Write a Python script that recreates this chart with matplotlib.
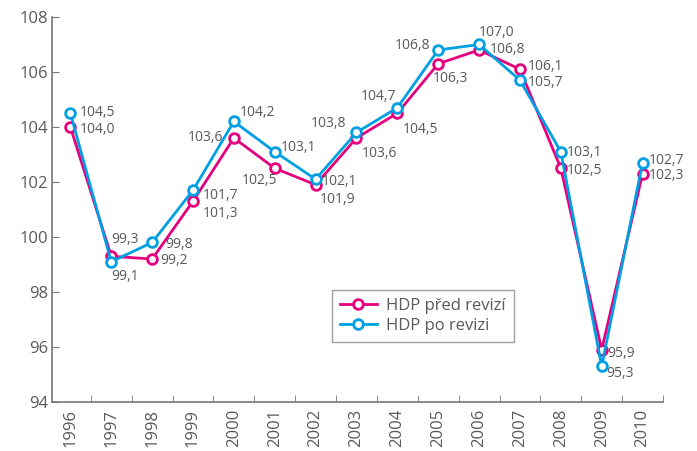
import matplotlib
matplotlib.use("Agg")
import matplotlib.pyplot as plt

# data
years = [str(y) for y in range(1996, 2011)]
hdp_pred = [104.0, 99.3, 99.2, 101.3, 103.6, 102.5, 101.9, 103.6, 104.5, 106.3, 106.8, 106.1, 102.5, 95.9, 102.3]
hdp_po = [104.5, 99.1, 99.8, 101.7, 104.2, 103.1, 102.1, 103.8, 104.7, 106.8, 107.0, 105.7, 103.1, 95.3, 102.7]

MAGENTA = "#e5007e"
CYAN = "#00a0e3"
GREY = "#58595b"

# label offsets in pixels (dx, dy, ha)
off_pred = [(9, -3, "left"), (0, 17, "left"), (8, -2, "left"), (10, -12, "left"),
            (-11, 0, "right"), (3, -12, "right"), (4, -15, "left"), (5, -16, "left"),
            (5, -16, "left"), (-5, -15, "left"), (11, 0, "left"), (8, 3, "left"),
            (6, -2, "left"), (6, -4, "left"), (6, -2, "left")]
off_po = [(9, 1, "left"), (0, -15, "left"), (13, -2, "left"), (10, -5, "left"),
          (6, 9, "left"), (6, 4, "left"), (6, -2, "left"), (-10, 9, "right"),
          (-1, 11, "right"), (-8, 4, "right"), (0, 12, "left"), (8, -2, "left"),
          (6, -1, "left"), (5, -7, "left"), (6, 2, "left")]

plt.rcParams["font.family"] = ["Open Sans", "DejaVu Sans"]

fig = plt.figure(figsize=(6.97, 4.51), dpi=100)
ax = fig.add_axes([52 / 697, 1 - 402 / 451, (663 - 52) / 697, (402 - 17) / 451])

x = list(range(len(years)))
ax.plot(x, hdp_pred, "-o", color=MAGENTA, lw=2, ms=7, mfc="white", mew=2,
        label="HDP před revizí", zorder=3)
ax.plot(x, hdp_po, "-o", color=CYAN, lw=2, ms=7, mfc="white", mew=2,
        label="HDP po revizi", zorder=4)

for vals, offs in ((hdp_pred, off_pred), (hdp_po, off_po)):
    for i, v in enumerate(vals):
        dx, dy, ha = offs[i]
        ax.annotate(f"{v:.1f}".replace(".", ","), (i, v), xytext=(dx, dy),
                    textcoords="offset pixels", ha=ha, va="center",
                    fontsize=10, color=GREY)

ax.set_xlim(-0.45, len(years) - 0.55)
ax.set_ylim(94, 108)
ax.set_yticks(range(94, 109, 2))
ax.set_xticks(x)
ax.set_xticklabels(years, rotation=90)
ax.set_xticks([i - 0.5 for i in range(1, len(years) + 1)], minor=True)

for side in ("top", "right"):
    ax.spines[side].set_visible(False)
for side in ("left", "bottom"):
    ax.spines[side].set_color("#777777")
    ax.spines[side].set_linewidth(1.2)

ax.tick_params(axis="x", which="major", length=0, labelsize=12, labelcolor=GREY, pad=5)
ax.tick_params(axis="x", which="minor", direction="in", length=5, color="#777777")
ax.tick_params(axis="y", direction="in", length=5, color="#777777", labelsize=12,
               labelcolor=GREY, pad=3)

leg = ax.legend(loc="upper left", bbox_to_anchor=(272 / 611, 1 - (282 - 17) / 385),
                fontsize=12, frameon=True, fancybox=False, borderpad=0.45,
                handlelength=2.2, labelspacing=0.25, handletextpad=0.6)
leg.get_frame().set_edgecolor("#888888")
leg.get_frame().set_linewidth(1)
for t in leg.get_texts():
    t.set_color(GREY)

fig.savefig("out.png", dpi=100)
